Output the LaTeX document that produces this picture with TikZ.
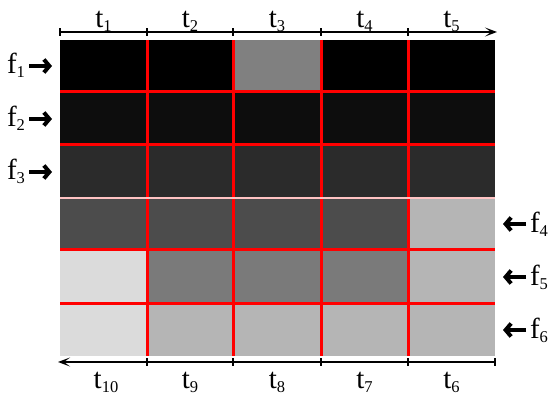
\documentclass[tikz,border=0pt]{standalone}
\usepackage{fontspec}
\setmainfont{Liberation Serif}
\usetikzlibrary{arrows.meta}
\newcommand\sbs[1]{\raisebox{-4pt}{\fontsize{16.5}{16.5}\selectfont #1}}
\definecolor{gA}{gray}{0}
\definecolor{gB}{gray}{0.05}
\definecolor{gC}{gray}{0.17}
\definecolor{gD}{gray}{0.30}
\definecolor{gE}{gray}{0.48}
\definecolor{gF}{gray}{0.50}
\definecolor{gG}{gray}{0.71}
\definecolor{gH}{gray}{0.86}
\definecolor{pinkline}{RGB}{255,195,195}
\tikzset{
  lbl/.style={font=\fontsize{29}{29}\selectfont, inner sep=0pt, anchor=base},
  axis/.style={line width=2pt, black},
  tick/.style={line width=2pt, black},
  gridred/.style={line width=3pt, red},
  fptr/.style={line width=4.5pt, -{Straight Barb[length=5.5pt,width=13pt,line width=4pt]}},
  axtip/.style={-{Stealth[length=12pt,width=9pt,inset=6pt]}}
}
\begin{document}
\begin{tikzpicture}[x=1pt,y=-1pt]
\useasboundingbox (0,0) rectangle (550,398);
% column boundaries
\def\xa{60}\def\xb{147}\def\xc{233}\def\xd{321}\def\xe{408}\def\xf{495}
% row boundaries
\def\ya{40}\def\yb{92}\def\yc{145}\def\yd{198}\def\ye{250}\def\yf{304}\def\yg{356}
% row 1
\fill[gA] (\xa,\ya) rectangle (\xc,\yb);
\fill[gF] (\xc,\ya) rectangle (\xd,\yb);
\fill[gA] (\xd,\ya) rectangle (\xf,\yb);
% row 2
\fill[gB] (\xa,\yb) rectangle (\xf,\yc);
% row 3
\fill[gC] (\xa,\yc) rectangle (\xf,\yd);
% row 4
\fill[gD] (\xa,\yd) rectangle (\xe,\ye);
\fill[gG] (\xe,\yd) rectangle (\xf,\ye);
% row 5
\fill[gH] (\xa,\ye) rectangle (\xb,\yf);
\fill[gE] (\xb,\ye) rectangle (\xe,\yf);
\fill[gG] (\xe,\ye) rectangle (\xf,\yf);
% row 6
\fill[gH] (\xa,\yf) rectangle (\xb,\yg);
\fill[gG] (\xb,\yf) rectangle (\xf,\yg);
% red grid
\foreach \x in {\xb,\xc,\xd,\xe} \draw[gridred] (\x,\ya) -- (\x,\yg);
\foreach \y in {\yb,\yc,\ye,\yf} \draw[gridred] (\xa,\y) -- (\xf,\y);
\draw[pinkline, line width=1.5pt] (\xa,\yd) -- (\xf,\yd);
% top axis
\coordinate (ta) at (\xa,32);
\coordinate (tb) at (497,32);
\draw[axis, axtip] (ta) -- (tb);
\foreach \x in {\xa,\xb,\xc,\xd,\xe} \draw[tick] (\x,28.5) -- (\x,36);
% bottom axis
\coordinate (ba) at (\xf,362);
\coordinate (bb) at (58,362);
\draw[axis, axtip] (ba) -- (bb);
\foreach \x in {\xb,\xc,\xd,\xe,\xf} \draw[tick] (\x,358.5) -- (\x,366);
% top labels
\node[lbl] (t1) at (103.5,28) {t\sbs{1}};
\node[lbl] (t2) at (190,28) {t\sbs{2}};
\node[lbl] (t3) at (277,28) {t\sbs{3}};
\node[lbl] (t4) at (364.5,28) {t\sbs{4}};
\node[lbl] (t5) at (451.5,28) {t\sbs{5}};
% bottom labels
\node[lbl] (t10) at (106,389) {t\sbs{10}};
\node[lbl] (t9) at (190,389) {t\sbs{9}};
\node[lbl] (t8) at (277,389) {t\sbs{8}};
\node[lbl] (t7) at (364.5,389) {t\sbs{7}};
\node[lbl] (t6) at (451.5,389) {t\sbs{6}};
% left feature labels
\node[lbl] (f1) at (16,74) {f\sbs{1}};
\node[lbl] (f2) at (16,127) {f\sbs{2}};
\node[lbl] (f3) at (16,180) {f\sbs{3}};
\foreach \n/\y in {1/66,2/119,3/172}{
  \coordinate (la\n) at (29,\y);
  \coordinate (lb\n) at (52,\y);
  \draw[fptr] (la\n) -- (lb\n);
}
% right feature labels
\node[lbl] (f4) at (539,233) {f\sbs{4}};
\node[lbl] (f5) at (539,286) {f\sbs{5}};
\node[lbl] (f6) at (539,339) {f\sbs{6}};
\foreach \n/\y in {4/224,5/277,6/330}{
  \coordinate (ra\n) at (526,\y);
  \coordinate (rb\n) at (503,\y);
  \draw[fptr] (ra\n) -- (rb\n);
}
\end{tikzpicture}
\end{document}
